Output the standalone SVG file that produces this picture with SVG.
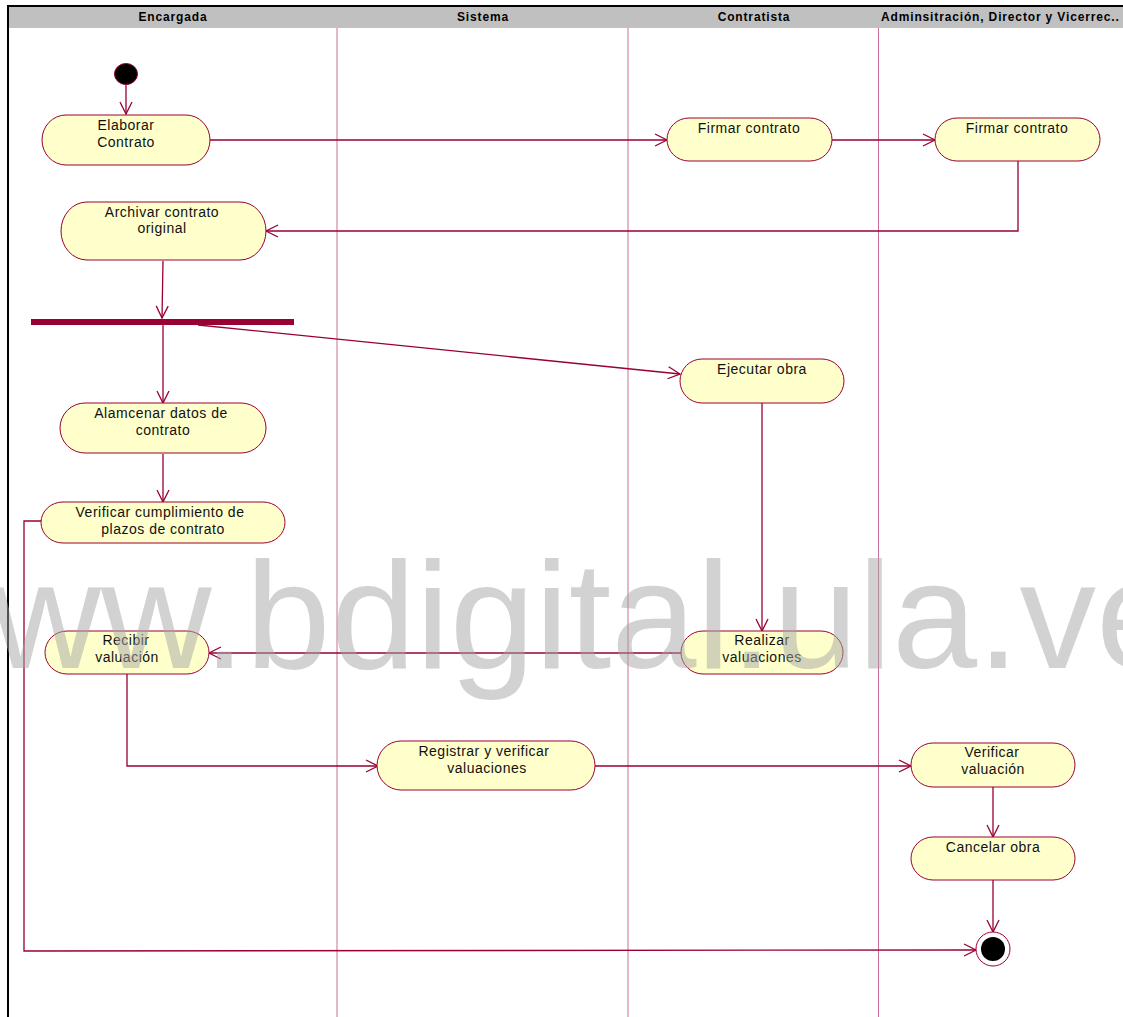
<svg xmlns="http://www.w3.org/2000/svg" width="1123" height="1017" viewBox="0 0 1123 1017">
  <style>
    .lane { stroke: #cc6f99; stroke-width: 1; fill: none; }
    .hdr { font-family: "Liberation Sans", Arial, sans-serif; font-size: 12px; font-weight: bold; fill: #000; letter-spacing: 0.85px; }
    .act { fill: #ffffcc; stroke: #990033; stroke-width: 1; }
    .lbl { font-family: "Liberation Sans", Arial, sans-serif; font-size: 14px; fill: #111; text-anchor: middle; letter-spacing: 0.5px; }
    .edge { stroke: #990033; stroke-width: 1.3; fill: none; }
    .bar { fill: #990033; }
    .mark { font-family: "Liberation Sans", Arial, sans-serif; font-size: 153px; fill: #a6a6a6; opacity: 0.5; }
  </style>
  <defs>
    <marker id="arrow" markerUnits="userSpaceOnUse" markerWidth="16" markerHeight="14" refX="13" refY="7" orient="auto">
      <path d="M1,1 L13,7 L1,13" fill="none" stroke="#990033" stroke-width="1.3"/>
    </marker>
  </defs>

  <rect width="1123" height="1017" fill="#ffffff"/>

  <!-- swimlane frame and headers -->
  <g id="lanes">
    <rect x="8" y="7" width="1115" height="21" fill="#c0c0c0"/>
    <line x1="7" y1="6" x2="1123" y2="6" stroke="#000" stroke-width="2"/>
    <line x1="8" y1="5" x2="8" y2="1017" stroke="#000" stroke-width="2"/>
    <line class="lane" x1="337" y1="28" x2="337" y2="1017"/>
    <line class="lane" x1="628" y1="28" x2="628" y2="1017"/>
    <line class="lane" x1="878.5" y1="28" x2="878.5" y2="1017"/>
    <text class="hdr" x="173" y="21" text-anchor="middle">Encargada</text>
    <text class="hdr" x="483" y="21" text-anchor="middle">Sistema</text>
    <text class="hdr" x="754" y="21" text-anchor="middle">Contratista</text>
    <text class="hdr" x="881" y="21">Adminsitración, Director y Vicerrec..</text>
  </g>

  <!-- connectors -->
  <g id="connectors">
    <line class="edge" x1="126" y1="85" x2="126" y2="114" marker-end="url(#arrow)"/>
    <line class="edge" x1="210" y1="140" x2="667" y2="140" marker-end="url(#arrow)"/>
    <line class="edge" x1="832" y1="140" x2="935" y2="140" marker-end="url(#arrow)"/>
    <polyline class="edge" points="1018,161 1018,231 266,231" marker-end="url(#arrow)"/>
    <line class="edge" x1="163" y1="261" x2="162" y2="318" marker-end="url(#arrow)"/>
    <line class="edge" x1="163" y1="325" x2="163" y2="403" marker-end="url(#arrow)"/>
    <line class="edge" x1="198" y1="325" x2="680" y2="374" marker-end="url(#arrow)"/>
    <line class="edge" x1="163" y1="454" x2="163" y2="502" marker-end="url(#arrow)"/>
    <line class="edge" x1="762" y1="403" x2="762" y2="631" marker-end="url(#arrow)"/>
    <line class="edge" x1="681" y1="653" x2="209" y2="653" marker-end="url(#arrow)"/>
    <polyline class="edge" points="127,674 127,766 378,766" marker-end="url(#arrow)"/>
    <line class="edge" x1="595" y1="766" x2="911" y2="766" marker-end="url(#arrow)"/>
    <line class="edge" x1="993" y1="787" x2="993" y2="837" marker-end="url(#arrow)"/>
    <line class="edge" x1="993" y1="880" x2="993" y2="932" marker-end="url(#arrow)"/>
    <polyline class="edge" points="53,521 24,521 24,951 976,950" marker-end="url(#arrow)"/>
  </g>

  <!-- initial state -->
  <g id="start">
    <ellipse cx="126" cy="74" rx="11.5" ry="10.5" fill="#000" stroke="#990033" stroke-width="1"/>
  </g>

  <g id="elaborar-contrato">
    <rect class="act" x="42" y="115" width="168" height="50" rx="24" ry="25"/>
    <text class="lbl" x="126" y="130">Elaborar</text>
    <text class="lbl" x="126" y="147">Contrato</text>
  </g>

  <g id="firmar-contrato-contratista">
    <rect class="act" x="667" y="118" width="165" height="43" rx="22" ry="21.5"/>
    <text class="lbl" x="749" y="133">Firmar contrato</text>
  </g>

  <g id="firmar-contrato-admin">
    <rect class="act" x="935" y="118" width="165" height="43" rx="22" ry="21.5"/>
    <text class="lbl" x="1017" y="133">Firmar contrato</text>
  </g>

  <g id="archivar-contrato">
    <rect class="act" x="61" y="202" width="205" height="58" rx="26" ry="29"/>
    <text class="lbl" x="162" y="217">Archivar contrato</text>
    <text class="lbl" x="162" y="233">original</text>
  </g>

  <g id="fork">
    <rect class="bar" x="31" y="319" width="263" height="6"/>
  </g>

  <g id="almacenar-datos">
    <rect class="act" x="60" y="403" width="206" height="50" rx="25" ry="25"/>
    <text class="lbl" x="161" y="418">Alamcenar datos de</text>
    <text class="lbl" x="163" y="435">contrato</text>
  </g>

  <g id="verificar-plazos">
    <rect class="act" x="41" y="502" width="244" height="41" rx="22" ry="20.5"/>
    <text class="lbl" x="160" y="517">Verificar cumplimiento de</text>
    <text class="lbl" x="163" y="534">plazos de contrato</text>
  </g>

  <g id="ejecutar-obra">
    <rect class="act" x="680" y="359" width="164" height="44" rx="22" ry="22"/>
    <text class="lbl" x="762" y="374">Ejecutar obra</text>
  </g>

  <g id="realizar-valuaciones">
    <rect class="act" x="681" y="631" width="162" height="43" rx="22" ry="21.5"/>
    <text class="lbl" x="762" y="645">Realizar</text>
    <text class="lbl" x="762" y="662">valuaciones</text>
  </g>

  <g id="recibir-valuacion">
    <rect class="act" x="45" y="631" width="164" height="43" rx="22" ry="21.5"/>
    <text class="lbl" x="126" y="645">Recibir</text>
    <text class="lbl" x="127" y="662">valuación</text>
  </g>

  <g id="registrar-valuaciones">
    <rect class="act" x="377" y="741" width="218" height="49" rx="24" ry="24.5"/>
    <text class="lbl" x="484" y="756">Registrar y verificar</text>
    <text class="lbl" x="487" y="773">valuaciones</text>
  </g>

  <g id="verificar-valuacion">
    <rect class="act" x="911" y="743" width="164" height="44" rx="22" ry="22"/>
    <text class="lbl" x="992" y="757">Verificar</text>
    <text class="lbl" x="993" y="774">valuación</text>
  </g>

  <g id="cancelar-obra">
    <rect class="act" x="911" y="837" width="164" height="43" rx="22" ry="21.5"/>
    <text class="lbl" x="993" y="852">Cancelar obra</text>
  </g>

  <!-- final state -->
  <g id="end">
    <circle cx="993" cy="949" r="17" fill="#fff" stroke="#990033" stroke-width="1"/>
    <circle cx="993" cy="949" r="12" fill="#000"/>
  </g>

  <!-- repository watermark laid over the drawing -->
  <text class="mark" x="-120" y="668">www.bdigital.ula.ve</text>
</svg>
